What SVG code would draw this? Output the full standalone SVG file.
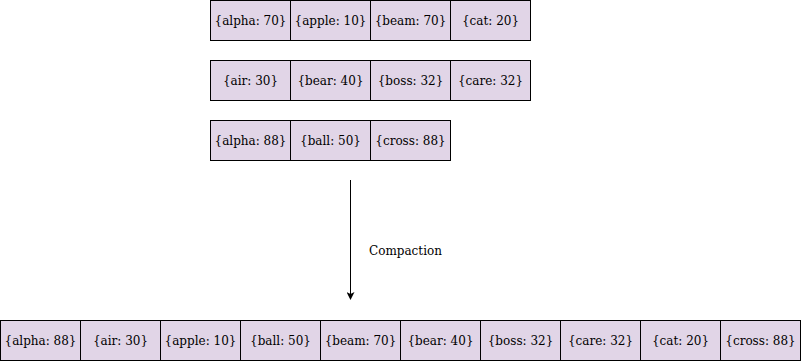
<svg xmlns="http://www.w3.org/2000/svg" width="801" height="361" viewBox="0 0 801 361">
<defs>
<style>
.b{fill:#e1d5e7;stroke:#000;stroke-width:1}
.t{font-family:"DejaVu Serif",serif;font-size:12px;fill:#000;text-anchor:middle;dominant-baseline:central}
.l{font-family:"DejaVu Serif",serif;font-size:12px;fill:#000}
</style>
<marker id="ah" markerWidth="8" markerHeight="8" refX="7" refY="4" orient="auto" markerUnits="userSpaceOnUse">
<path d="M0,0 L8,4 L0,8 L2,4 Z" fill="#000"/>
</marker>
</defs>
<g id="row1">
<g id="n1"><rect class="b" x="210.5" y="0.5" width="80" height="40"/><text class="t" x="250.5" y="20.5">{alpha: 70}</text></g>
<g id="n2"><rect class="b" x="290.5" y="0.5" width="80" height="40"/><text class="t" x="330.5" y="20.5">{apple: 10}</text></g>
<g id="n3"><rect class="b" x="370.5" y="0.5" width="80" height="40"/><text class="t" x="410.5" y="20.5">{beam: 70}</text></g>
<g id="n4"><rect class="b" x="450.5" y="0.5" width="80" height="40"/><text class="t" x="490.5" y="20.5">{cat: 20}</text></g>
</g>
<g id="row2">
<g id="n5"><rect class="b" x="210.5" y="60.5" width="80" height="40"/><text class="t" x="250.5" y="80.5">{air: 30}</text></g>
<g id="n6"><rect class="b" x="290.5" y="60.5" width="80" height="40"/><text class="t" x="330.5" y="80.5">{bear: 40}</text></g>
<g id="n7"><rect class="b" x="370.5" y="60.5" width="80" height="40"/><text class="t" x="410.5" y="80.5">{boss: 32}</text></g>
<g id="n8"><rect class="b" x="450.5" y="60.5" width="80" height="40"/><text class="t" x="490.5" y="80.5">{care: 32}</text></g>
</g>
<g id="row3">
<g id="n9"><rect class="b" x="210.5" y="120.5" width="80" height="40"/><text class="t" x="250.5" y="140.5">{alpha: 88}</text></g>
<g id="n10"><rect class="b" x="290.5" y="120.5" width="80" height="40"/><text class="t" x="330.5" y="140.5">{ball: 50}</text></g>
<g id="n11"><rect class="b" x="370.5" y="120.5" width="80" height="40"/><text class="t" x="410.5" y="140.5">{cross: 88}</text></g>
</g>
<g id="connectors">
<line x1="350.5" y1="180" x2="350.5" y2="299" stroke="#000" stroke-width="1" marker-end="url(#ah)"/>
<text class="l" x="369" y="254.5">Compaction</text>
</g>
<g id="result">
<g id="r1"><rect class="b" x="0.5" y="320.5" width="80" height="40"/><text class="t" x="40.5" y="340.5">{alpha: 88}</text></g>
<g id="r2"><rect class="b" x="80.5" y="320.5" width="80" height="40"/><text class="t" x="120.5" y="340.5">{air: 30}</text></g>
<g id="r3"><rect class="b" x="160.5" y="320.5" width="80" height="40"/><text class="t" x="200.5" y="340.5">{apple: 10}</text></g>
<g id="r4"><rect class="b" x="240.5" y="320.5" width="80" height="40"/><text class="t" x="280.5" y="340.5">{ball: 50}</text></g>
<g id="r5"><rect class="b" x="320.5" y="320.5" width="80" height="40"/><text class="t" x="360.5" y="340.5">{beam: 70}</text></g>
<g id="r6"><rect class="b" x="400.5" y="320.5" width="80" height="40"/><text class="t" x="440.5" y="340.5">{bear: 40}</text></g>
<g id="r7"><rect class="b" x="480.5" y="320.5" width="80" height="40"/><text class="t" x="520.5" y="340.5">{boss: 32}</text></g>
<g id="r8"><rect class="b" x="560.5" y="320.5" width="80" height="40"/><text class="t" x="600.5" y="340.5">{care: 32}</text></g>
<g id="r9"><rect class="b" x="640.5" y="320.5" width="80" height="40"/><text class="t" x="680.5" y="340.5">{cat: 20}</text></g>
<g id="r10"><rect class="b" x="720.5" y="320.5" width="80" height="40"/><text class="t" x="760.5" y="340.5">{cross: 88}</text></g>
</g>
</svg>
